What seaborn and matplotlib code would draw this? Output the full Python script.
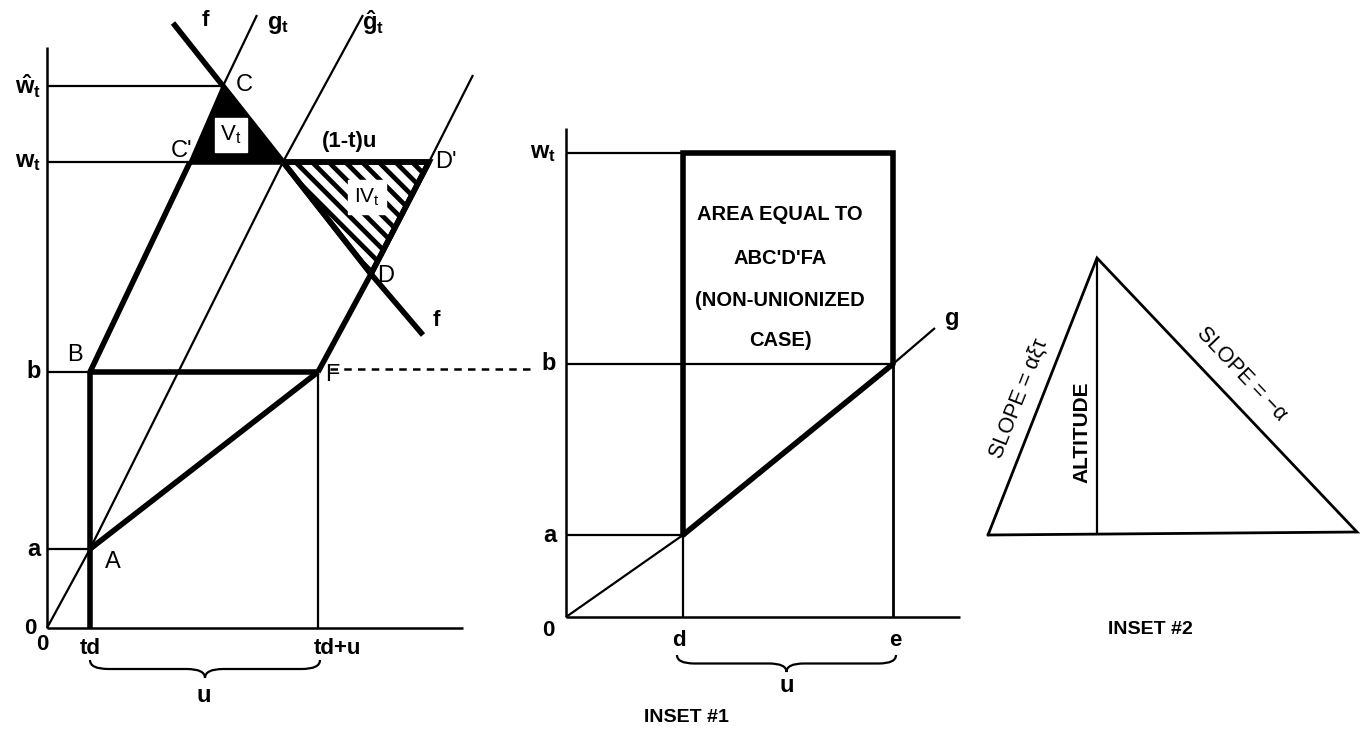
import numpy as np
import pandas as pd
import matplotlib
matplotlib.use("Agg")
import matplotlib.pyplot as plt
from matplotlib.patches import Polygon, PathPatch
from matplotlib.path import Path
import seaborn as sns

sns.set_theme(style="white")
plt.rcParams['font.family'] = ['Liberation Sans', 'DejaVu Sans']
plt.rcParams['text.color'] = 'black'
plt.rcParams['mathtext.fontset'] = 'custom'
plt.rcParams['mathtext.rm'] = 'Liberation Sans'
plt.rcParams['mathtext.bf'] = 'Liberation Sans:bold'
plt.rcParams['mathtext.it'] = 'Liberation Sans'
plt.rcParams['hatch.linewidth'] = 3.4

# ---------------- data (diagram units) ----------------
# main panel: levels on the vertical axis
main_level_names = ["a", "b", "w_t", "w_hat"]
main_levels = [7.9, 25.6, 46.6, 54.2]
# main panel: positions on the horizontal axis
main_pos_names = ["td", "td+u"]
main_pos = [4.3, 27.1]
main_axis_top = 58.1
main_axis_right = 41.6
# lines of the main panel (vertices)
ghat_x = [0.0, 4.3, 23.6, 31.6]
ghat_y = [0.0, 7.9, 46.6, 61.3]
g_x = [4.3, 14.3, 17.6, 21.0]          # B, C', C, top
g_y = [25.6, 46.6, 54.2, 61.3]
right_x = [27.1, 32.4, 38.2, 42.6]     # F, D, D', top
right_y = [25.6, 35.4, 46.6, 55.3]
f_x = [12.6, 17.6, 23.6, 32.4, 37.6]
f_y = [60.5, 54.2, 46.6, 35.4, 29.3]
AF_x = [4.3, 27.1]
AF_y = [7.9, 25.6]
tri_V_x = [17.6, 14.3, 23.6]
tri_V_y = [54.2, 46.6, 46.6]
tri_IV_x = [23.6, 38.2, 32.4]
tri_IV_y = [46.6, 46.6, 35.4]
dash_x = [28.3, 48.8]
dash_y = [25.9, 25.9]

# inset 1
in1_level_names = ["a", "b", "w_t"]
in1_levels = [8.2, 25.3, 46.4]
in1_pos_names = ["d", "e"]
in1_pos = [11.7, 32.7]
in1_axis_top = 48.9
in1_axis_right = 39.4
in1_g_x = [0.0, 11.7, 32.7, 36.9]
in1_g_y = [0.0, 8.2, 25.3, 28.9]
in1_text = ["AREA EQUAL TO", "ABC'D'FA", "(NON-UNIONIZED", "CASE)"]

# inset 2 triangle
in2_x = [0.0, 10.9, 36.9]
in2_y = [0.0, 27.7, 0.3]

THICK = 4.0
THIN = 1.6
K = "black"

W, H = 1363, 730
fig = plt.figure(figsize=(W / 100, H / 100), dpi=100)
fig.patch.set_facecolor("white")


def make_ax(px0, px1, ox, oy):
    """axes spanning figure pixels px0..px1 with origin at pixel (ox, oy), 10 px per unit"""
    ax = fig.add_axes([px0 / W, 0, (px1 - px0) / W, 1])
    ax.set_xlim((px0 - ox) / 10, (px1 - ox) / 10)
    ax.set_ylim((oy - H) / 10, oy / 10)
    ax.axis("off")
    ax.patch.set_alpha(0)
    return ax


def seg(ax, xs, ys, lw, **kw):
    sns.lineplot(x=list(xs), y=list(ys), sort=False, estimator=None, color=K,
                 linewidth=lw, ax=ax, solid_capstyle="butt", **kw)


def brace(ax, x0, x1, y, h, lw=1.6):
    xm = (x0 + x1) / 2
    r = (x1 - x0) * 0.08
    verts = [(x0, y), (x0, y - h / 2), (x0 + r, y - h / 2),
             (xm - r, y - h / 2), (xm, y - h / 2), (xm, y - h),
             (xm, y - h / 2), (xm + r, y - h / 2),
             (x1 - r, y - h / 2), (x1, y - h / 2), (x1, y)]
    codes = [Path.MOVETO, Path.CURVE3, Path.CURVE3,
             Path.LINETO, Path.CURVE3, Path.CURVE3,
             Path.CURVE3, Path.CURVE3,
             Path.LINETO, Path.CURVE3, Path.CURVE3]
    ax.add_patch(PathPatch(Path(verts, codes), fill=False, lw=lw, ec=K, clip_on=False))


# ======================= MAIN PANEL =======================
ax = make_ax(0, 500, 47, 628)
lv = dict(zip(main_level_names, main_levels))
ps = dict(zip(main_pos_names, main_pos))

# axes lines
seg(ax, [0, 0], [0, main_axis_top], 1.8)
seg(ax, [0, main_axis_right], [0, 0], 1.8)

# triangles (drawn first so lines sit on top)
ax.add_patch(Polygon(np.column_stack([tri_V_x, tri_V_y]), closed=True, fc=K, ec=K, lw=2))
ax.add_patch(Polygon(np.column_stack([tri_IV_x, tri_IV_y]), closed=True, fc="white",
                     ec=K, lw=THICK, hatch="\\\\", joinstyle="miter"))

# horizontal level lines
seg(ax, [0, tri_V_x[0]], [lv["w_hat"]] * 2, THIN)
seg(ax, [0, g_x[1]], [lv["w_t"]] * 2, THIN)
seg(ax, [g_x[1], right_x[2]], [lv["w_t"]] * 2, THICK)
seg(ax, [0, ps["td"]], [lv["b"]] * 2, THIN)
seg(ax, [ps["td"], ps["td+u"]], [lv["b"]] * 2, THICK)
seg(ax, [0, ps["td"]], [lv["a"]] * 2, THIN)
seg(ax, dash_x, dash_y, 1.8, linestyle=(0, (3, 2.5)), clip_on=False)

# verticals
seg(ax, [ps["td"]] * 2, [0, lv["b"]], THICK)
seg(ax, [ps["td+u"]] * 2, [0, lv["b"]], THIN)

# sloped lines
seg(ax, ghat_x, ghat_y, THIN)
seg(ax, g_x[:2], g_y[:2], THICK)
seg(ax, g_x[2:], g_y[2:], THIN)
seg(ax, right_x[:3], right_y[:3], THICK)
seg(ax, right_x[2:], right_y[2:], THIN)
seg(ax, f_x, f_y, THICK)
seg(ax, AF_x, AF_y, THICK)

# labels in the triangles
ax.text(18.4, 49.3, r"$\mathrm{V_t}$", fontsize=16, ha="center", va="center",
        bbox=dict(boxstyle="square,pad=0.25", fc="white", ec="white"))
ax.text(32.0, 43.1, r"$\mathrm{IV_t}$", fontsize=15, ha="center", va="center",
        bbox=dict(boxstyle="square,pad=0.3", fc="white", ec="white"))

BIG = 17
ax.text(-0.6, lv["w_hat"], r"$\mathbf{\hat{w}_t}$", fontsize=BIG, ha="right", va="center")
ax.text(-0.6, lv["w_t"], r"$\mathbf{w_t}$", fontsize=BIG, ha="right", va="center")
ax.text(-0.6, lv["b"], "b", fontsize=BIG, weight="bold", ha="right", va="center")
ax.text(-0.6, lv["a"], "a", fontsize=BIG, weight="bold", ha="right", va="center")
ax.text(-1.7, 0.0, "0", fontsize=16, weight="bold", ha="center", va="center")
ax.text(-0.5, -1.6, "0", fontsize=16, weight="bold", ha="center", va="center")
ax.text(ps["td"], -2.0, "td", fontsize=16, weight="bold", ha="center", va="center")
ax.text(ps["td+u"] + 1.9, -2.0, "td+u", fontsize=16, weight="bold", ha="center", va="center")
brace(ax, ps["td"], ps["td+u"] + 0.2, -3.2, 1.8)
ax.text((ps["td"] + ps["td+u"]) / 2, -6.7, "u", fontsize=BIG, weight="bold", ha="center", va="center")

ax.text(2.8, 27.3, "B", fontsize=17, ha="center", va="center")
ax.text(6.6, 6.6, "A", fontsize=17, ha="center", va="center")
ax.text(28.5, 25.3, "F", fontsize=17, ha="center", va="center")
ax.text(19.7, 54.3, "C", fontsize=17, ha="center", va="center")
ax.text(13.5, 47.7, "C'", fontsize=17, ha="center", va="center")
ax.text(30.3, 48.6, "(1-t)u", fontsize=16, weight="bold", ha="center", va="center")
ax.text(39.9, 46.6, "D'", fontsize=17, ha="center", va="center")
ax.text(33.9, 35.2, "D", fontsize=17, ha="center", va="center")
ax.text(15.8, 60.8, "f", fontsize=16, weight="bold", ha="center", va="center")
ax.text(38.9, 30.8, "f", fontsize=16, weight="bold", ha="center", va="center")
ax.text(23.1, 60.3, r"$\mathbf{g_t}$", fontsize=BIG, ha="center", va="center")
ax.text(32.6, 60.5, r"$\mathbf{\hat{g}_t}$", fontsize=BIG, ha="center", va="center")

# ======================= INSET 1 =======================
ax1 = make_ax(500, 1000, 566, 617)
l1 = dict(zip(in1_level_names, in1_levels))
p1 = dict(zip(in1_pos_names, in1_pos))
seg(ax1, [0, 0], [0, in1_axis_top], 1.8)
seg(ax1, [0, in1_axis_right], [0, 0], 1.8)
seg(ax1, [0, p1["d"]], [l1["a"]] * 2, THIN)
seg(ax1, [0, p1["e"]], [l1["b"]] * 2, THIN)
seg(ax1, [0, p1["d"]], [l1["w_t"]] * 2, THIN)
seg(ax1, [p1["d"]] * 2, [0, l1["a"]], THIN)
seg(ax1, [p1["e"]] * 2, [0, l1["b"]], 2.0)
sns.lineplot(x=[p1["d"], p1["d"], p1["e"], p1["e"]],
             y=[l1["a"], l1["w_t"], l1["w_t"], l1["b"]],
             sort=False, estimator=None, color=K, linewidth=THICK, ax=ax1)
ax1.lines[-1].set_solid_joinstyle("miter")
seg(ax1, in1_g_x[:2], in1_g_y[:2], THIN)
seg(ax1, in1_g_x[1:3], in1_g_y[1:3], THICK)
seg(ax1, in1_g_x[2:], in1_g_y[2:], THIN)

for txt, yy in zip(in1_text, [40.2, 35.9, 31.7, 27.7]):
    ax1.text(21.4, yy, txt, fontsize=14.5, weight="bold", ha="center", va="center")

ax1.text(-1.0, l1["w_t"], r"$\mathbf{w_t}$", fontsize=BIG, ha="right", va="center")
ax1.text(-1.0, l1["b"], "b", fontsize=BIG, weight="bold", ha="right", va="center")
ax1.text(-1.0, l1["a"], "a", fontsize=BIG, weight="bold", ha="right", va="center")
ax1.text(-1.8, -1.3, "0", fontsize=16, weight="bold", ha="center", va="center")
ax1.text(p1["d"] - 0.4, -2.3, "d", fontsize=16, weight="bold", ha="center", va="center")
ax1.text(p1["e"] + 0.2, -2.3, "e", fontsize=16, weight="bold", ha="center", va="center")
brace(ax1, p1["d"] - 0.6, p1["e"] + 0.3, -3.8, 1.7)
ax1.text(22.1, -6.8, "u", fontsize=BIG, weight="bold", ha="center", va="center")
ax1.text(38.6, 29.9, "g", fontsize=BIG, weight="bold", ha="center", va="center")
ax1.text(12.0, -10.1, "INSET #1", fontsize=14, weight="bold", ha="center", va="center")

# ======================= INSET 2 =======================
ax2 = make_ax(960, 1363, 988, 535)
tri_x = in2_x + [in2_x[0]]
tri_y = in2_y + [in2_y[0]]
sns.lineplot(x=tri_x, y=tri_y, sort=False, estimator=None, color=K, linewidth=2.0, ax=ax2)
ax2.lines[-1].set_solid_joinstyle("miter")
seg(ax2, [in2_x[1]] * 2, [0.1, in2_y[1]], THIN)
ax2.text(9.4, 10.3, "ALTITUDE", fontsize=15, weight="bold", rotation=90, ha="center", va="center")
ax2.text(3.1, 13.6, "SLOPE = \u03b1\u03be\u03c4", fontsize=15.5, rotation=68.5,
         rotation_mode="anchor", ha="center", va="center")
ax2.text(25.4, 16.1, "SLOPE = \u2212\u03b1", fontsize=15.5, rotation=-46.5,
         rotation_mode="anchor", ha="center", va="center")
ax2.text(16.2, -9.5, "INSET #2", fontsize=14, weight="bold", ha="center", va="center")

fig.savefig("out.png", dpi=100, facecolor="white")
